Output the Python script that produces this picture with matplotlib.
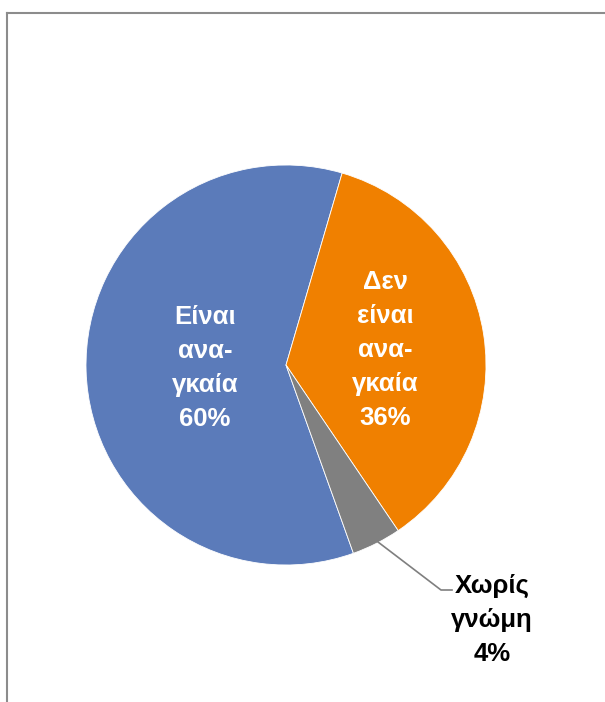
import matplotlib
matplotlib.use("Agg")
import matplotlib.pyplot as plt
from matplotlib.lines import Line2D

labels = ["Είναι\nανα-\nγκαία", "Δεν\nείναι\nανα-\nγκαία", "Χωρίς\nγνώμη"]
values = [60, 36, 4]
colors = ["#5B7BBA", "#F08000", "#808080"]
text_colors = ["white", "white", "black"]

W, H = 605, 702
fig = plt.figure(figsize=(W / 100, H / 100), dpi=100)

# pie centre (286, 365) px, radius 200 px
cx, cy, r = 286, 365, 200
ax = fig.add_axes([(cx - r) / W, (H - cy - r) / H, 2 * r / W, 2 * r / H])

# blue slice starts at ~160 deg clockwise from 12 o'clock
wedges, _ = ax.pie(values, colors=colors, startangle=90 - 160.3 + 360,
                   counterclock=False, radius=1,
                   wedgeprops=dict(edgecolor="white", linewidth=0.6))
ax.set_xlim(-1, 1)
ax.set_ylim(-1, 1)
ax.set_aspect("equal")
ax.axis("off")

font = dict(family="Liberation Sans", weight="bold", fontsize=18.5)

def px(x, y):
    return ((x - cx) / r, (cy - y) / r)

# inside labels
pos = [(205, 368), (385, 350)]
for i in range(2):
    ax.text(*px(*pos[i]), labels[i] + "\n" + f"{values[i]}%", color=text_colors[i],
            ha="center", va="center", linespacing=1.52, **font)

# outside label with leader line
ax.text(*px(492, 620), labels[2] + "\n" + f"{values[2]}%", color=text_colors[2],
        ha="center", va="center", linespacing=1.52, **font)
lx, ly = zip(px(378, 542), px(441, 590), px(452, 590))
ax.plot(lx, ly, color="#7F7F7F", lw=1.2, clip_on=False)

# chart frame
fig.add_artist(Line2D([7 / W, 1], [1 - 13 / H, 1 - 13 / H], color="#8C8C8C", lw=1.5))
fig.add_artist(Line2D([7 / W, 7 / W], [0, 1 - 13 / H], color="#8C8C8C", lw=1.5))

fig.savefig("out.png", dpi=100, facecolor="white")
